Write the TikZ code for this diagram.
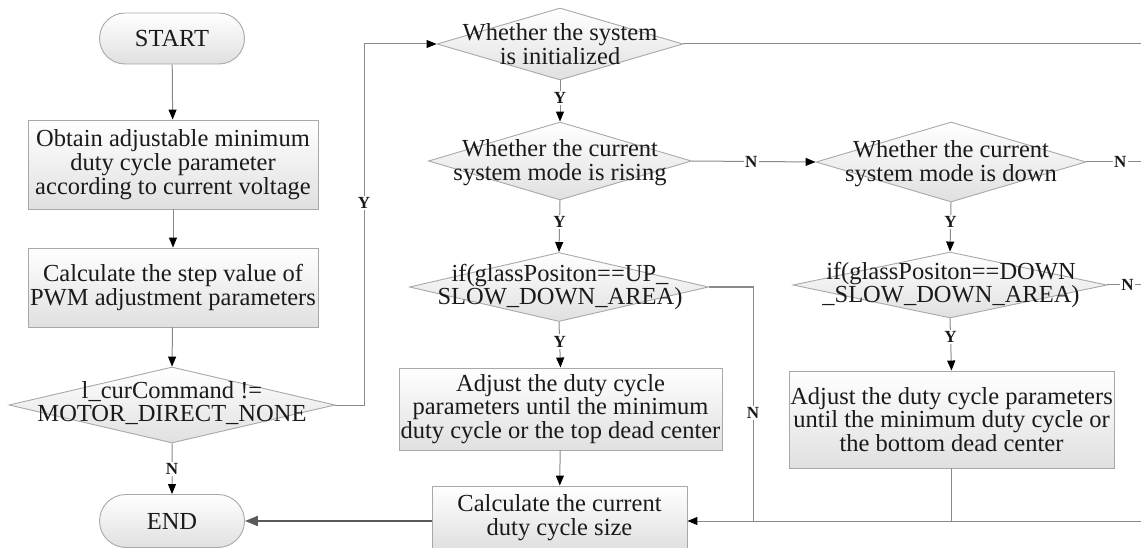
\documentclass[tikz,border=0pt]{standalone}
\usepackage{fontspec}
\setmainfont{Liberation Serif}
\usetikzlibrary{arrows.meta,shapes.geometric,shapes.misc,calc}

\definecolor{edge}{HTML}{8A8A8A}
\definecolor{frame}{HTML}{A8A8A8}
\definecolor{ink}{HTML}{1A1A1A}
\definecolor{shade}{HTML}{E0E0E0}
\definecolor{mainline}{HTML}{5A5A5A}

\tikzset{
  txt/.style={font=\fontsize{24.5}{23.8}\selectfont, text=ink, align=center, inner sep=0pt},
  proc/.style={txt, rectangle, draw=frame, line width=0.9pt, top color=white, bottom color=shade},
  term/.style={proc, rounded rectangle},
  cond/.style={diamond, draw=frame, line width=0.9pt, top color=white, bottom color=shade, inner sep=0pt},
  lab/.style={font=\fontsize{17}{17}\bfseries\selectfont, text=ink, fill=white, inner sep=1.5pt},
  flow/.style={draw=edge, line width=1pt},
  arr/.style={flow, -{Triangle[length=10pt,width=8pt,color=black]}},
  mainarr/.style={draw=mainline, line width=2pt, -{Triangle[length=13pt,width=10pt,color=mainline]}},
}

\begin{document}
\begin{tikzpicture}[x=1pt,y=-1pt]
\useasboundingbox (0,0) rectangle (1141,548);

% left column
\node[term, minimum width=145pt, minimum height=51pt] (start) at (172,38.5) {START};
\node[proc, minimum width=290pt, minimum height=89pt] (obtain) at (173,164.5)
  {Obtain adjustable minimum\\duty cycle parameter\\according to current voltage};
\node[proc, minimum width=290pt, minimum height=79pt] (step) at (173,287.5)
  {Calculate the step value of\\PWM adjustment parameters};
\node[cond, minimum width=326pt, minimum height=76pt] (cmd) at (172,405) {};
\node[txt] (cmdT) at (172,403) {l\_curCommand !=\\MOTOR\_DIRECT\_NONE};
\node[term, minimum width=145pt, minimum height=53pt] (end) at (172,521) {END};

% middle column
\node[cond, minimum width=246pt, minimum height=72pt] (init) at (560,44) {};
\node[txt] (initT) at (560,44) {Whether the system\\is initialized};
\node[cond, minimum width=263pt, minimum height=78pt] (rise) at (560,161) {};
\node[txt] (riseT) at (560,162.5) {Whether the current\\system mode is rising};
\node[cond, minimum width=299pt, minimum height=69pt] (upzone) at (559,287) {};
\node[txt] (upzoneT) at (560,287) {if(glassPositon==UP\_\\SLOW\_DOWN\_AREA)};
\node[proc, minimum width=323pt, minimum height=82pt] (adjup) at (560.5,409)
  {Adjust the duty cycle\\parameters until the minimum\\duty cycle or the top dead center};
\node[proc, minimum width=255pt, minimum height=63pt] (calc) at (559.5,517.5)
  {Calculate the current\\duty cycle size};

% right column
\node[cond, minimum width=270pt, minimum height=80pt] (down) at (951,162) {};
\node[txt] (downT) at (951,163.5) {Whether the current\\system mode is down};
\node[cond, minimum width=314pt, minimum height=66pt] (dnzone) at (950,285) {};
\node[txt] (dnzoneT) at (951,285) {if(glassPositon==DOWN\\\_SLOW\_DOWN\_AREA)};
\node[proc, minimum width=325pt, minimum height=97pt] (adjdn) at (951.5,419.5)
  {Adjust the duty cycle parameters\\until the minimum duty cycle or\\the bottom dead center};

% loose ends running off to the right
\coordinate (outA) at (1141,44);
\coordinate (outB) at (1141,162);
\coordinate (outC) at (1141,285);
\coordinate (outD) at (1141,521);
\coordinate (loopX) at (364,405);
\coordinate (upX) at (753,287);

% connectors
\draw[arr] (start) -- (obtain);
\draw[arr] (obtain) -- (step);
\draw[arr] (step) -- (cmd.north);
\draw[arr] (cmd.south) -- node[lab, pos=0.5] {N} (end);
\draw[arr] (cmd.east) -- (loopX) -- node[lab, pos=0.56] {Y} (loopX |- init.west) -- (init.west);
\draw[flow] (init.east) -- (outA);
\draw[arr] (init.south) -- node[lab, pos=0.43] {Y} (rise.north);
\draw[arr] (rise.east) -- node[lab, pos=0.48] {N} (down.west);
\draw[flow] (down.east) -- node[lab, pos=0.62] {N} (outB);
\draw[arr] (rise.south) -- node[lab, pos=0.42] {Y} (upzone.north);
\draw[arr] (down.south) -- node[lab, pos=0.4] {Y} (dnzone.north);
\draw[flow] (dnzone.east) -- node[lab, pos=0.6] {N} (outC);
\draw[arr] (upzone.south) -- node[lab, pos=0.43] {Y} (adjup.north);
\draw[arr] (dnzone.south) -- node[lab, pos=0.36] {Y} (adjdn.north);
\draw[arr] (adjup) -- (calc);
\draw[flow] (upzone.east) -- (upX) -- node[lab, pos=0.54] {N} (upX |- outD);
\draw[flow] (adjdn.south) -- (adjdn.south |- outD);
\draw[arr] (outD) -- (calc.east |- outD);
\draw[mainarr] (calc.west |- end.east) -- (end.east);
\end{tikzpicture}
\end{document}
